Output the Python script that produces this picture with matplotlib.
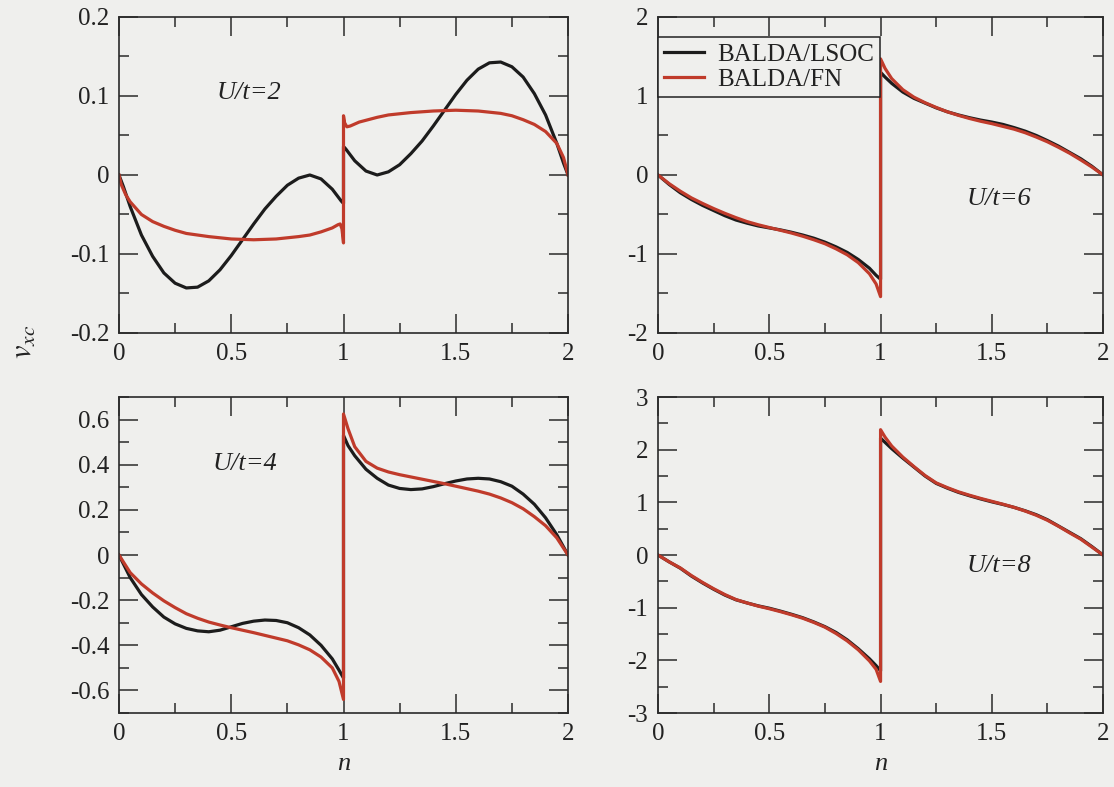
import numpy as np
import matplotlib.pyplot as plt
from matplotlib.ticker import MultipleLocator, FuncFormatter

plt.rcParams['font.family'] = ['Liberation Serif', 'DejaVu Serif']
plt.rcParams['mathtext.fontset'] = 'stix'
plt.rcParams['axes.unicode_minus'] = False

# ---- data (n = filling, v_xc values) ----
# U/t = 2
n2_lsoc = [0, 0.02, 0.05, 0.1, 0.15, 0.2, 0.25, 0.3, 0.35, 0.4, 0.45, 0.5, 0.55, 0.6, 0.65, 0.7,
           0.75, 0.8, 0.85, 0.9, 0.95, 0.99, 1.0, 1.0, 1.01, 1.05, 1.1, 1.15, 1.2, 1.25, 1.3, 1.35,
           1.4, 1.45, 1.5, 1.55, 1.6, 1.65, 1.7, 1.75, 1.8, 1.85, 1.9, 1.95, 1.98, 2.0]
v2_lsoc = [0, -0.015, -0.040, -0.076, -0.103, -0.124, -0.137, -0.143, -0.142, -0.134, -0.120,
           -0.102, -0.082, -0.062, -0.043, -0.027, -0.013, -0.004, 0.000, -0.005, -0.018, -0.033,
           -0.036, 0.036, 0.033, 0.018, 0.005, 0.000, 0.004, 0.013, 0.027, 0.043, 0.062, 0.082,
           0.102, 0.120, 0.134, 0.142, 0.143, 0.137, 0.124, 0.103, 0.076, 0.040, 0.015, 0]
n2_fn = [0, 0.01, 0.03, 0.05, 0.1, 0.15, 0.2, 0.25, 0.3, 0.4, 0.5, 0.6, 0.7, 0.8, 0.85, 0.9, 0.95,
         0.975, 0.985, 0.993, 1.0, 1.0, 1.005, 1.015, 1.03, 1.07, 1.15, 1.2, 1.3, 1.4, 1.5, 1.6,
         1.7, 1.75, 1.8, 1.85, 1.9, 1.95, 1.98, 2.0]
v2_fn = [0, -0.012, -0.025, -0.034, -0.050, -0.059, -0.065, -0.070, -0.074, -0.078, -0.081,
         -0.082, -0.081, -0.078, -0.076, -0.072, -0.067, -0.063, -0.062, -0.068, -0.086, 0.075,
         0.066, 0.061, 0.062, 0.067, 0.073, 0.076, 0.079, 0.081, 0.082, 0.081, 0.078, 0.075,
         0.070, 0.064, 0.055, 0.040, 0.022, 0]

# shared grid for U/t = 4, 6, 8
n_grid = [0, 0.05, 0.1, 0.15, 0.2, 0.25, 0.3, 0.35, 0.4, 0.45, 0.5, 0.55, 0.6, 0.65, 0.7, 0.75,
          0.8, 0.85, 0.9, 0.95, 0.98, 1.0, 1.0, 1.02, 1.05, 1.1, 1.15, 1.2, 1.25, 1.3, 1.35, 1.4,
          1.45, 1.5, 1.55, 1.6, 1.65, 1.7, 1.75, 1.8, 1.85, 1.9, 1.95, 2.0]

# U/t = 4
v4_lsoc = [0, -0.10, -0.175, -0.23, -0.275, -0.305, -0.325, -0.336, -0.34, -0.333, -0.318, -0.303,
           -0.293, -0.288, -0.29, -0.30, -0.322, -0.354, -0.40, -0.46, -0.51, -0.545,
           0.53, 0.485, 0.44, 0.38, 0.34, 0.31, 0.295, 0.29, 0.293, 0.303, 0.316, 0.328, 0.337,
           0.34, 0.337, 0.325, 0.305, 0.27, 0.225, 0.165, 0.09, 0]
v4_fn = [0, -0.078, -0.128, -0.168, -0.203, -0.233, -0.26, -0.28, -0.297, -0.31, -0.322, -0.333,
         -0.344, -0.356, -0.368, -0.38, -0.398, -0.42, -0.452, -0.50, -0.56, -0.64,
         0.625, 0.56, 0.48, 0.415, 0.385, 0.368, 0.356, 0.346, 0.336, 0.326, 0.316, 0.305, 0.294,
         0.283, 0.27, 0.253, 0.232, 0.205, 0.17, 0.13, 0.076, 0]

# U/t = 6
v6_lsoc = [0, -0.12, -0.225, -0.31, -0.385, -0.45, -0.515, -0.57, -0.61, -0.645, -0.67, -0.695,
           -0.725, -0.76, -0.80, -0.85, -0.91, -0.98, -1.07, -1.18, -1.27, -1.32,
           1.30, 1.24, 1.16, 1.05, 0.97, 0.91, 0.85, 0.80, 0.76, 0.725, 0.695, 0.67, 0.64,
           0.60, 0.555, 0.50, 0.435, 0.365, 0.285, 0.205, 0.11, 0]
v6_fn = [0, -0.11, -0.205, -0.29, -0.36, -0.425, -0.485, -0.54, -0.59, -0.63, -0.665, -0.70,
         -0.735, -0.775, -0.82, -0.87, -0.935, -1.01, -1.11, -1.25, -1.38, -1.54,
         1.47, 1.35, 1.22, 1.08, 0.985, 0.915, 0.855, 0.80, 0.755, 0.715, 0.68, 0.65, 0.615,
         0.58, 0.535, 0.48, 0.42, 0.35, 0.275, 0.19, 0.10, 0]

# U/t = 8
v8_lsoc = [0, -0.13, -0.25, -0.40, -0.53, -0.65, -0.76, -0.85, -0.91, -0.965, -1.01, -1.065,
           -1.125, -1.19, -1.27, -1.36, -1.47, -1.61, -1.78, -1.97, -2.10, -2.20,
           2.22, 2.14, 2.02, 1.84, 1.67, 1.50, 1.36, 1.27, 1.19, 1.125, 1.065, 1.01, 0.96,
           0.905, 0.84, 0.765, 0.67, 0.55, 0.43, 0.31, 0.16, 0]
v8_fn = [0, -0.13, -0.245, -0.39, -0.52, -0.64, -0.75, -0.845, -0.91, -0.97, -1.02, -1.075,
         -1.135, -1.20, -1.28, -1.37, -1.49, -1.63, -1.80, -2.01, -2.17, -2.40,
         2.38, 2.24, 2.07, 1.86, 1.68, 1.51, 1.37, 1.28, 1.20, 1.135, 1.075, 1.02, 0.965,
         0.905, 0.835, 0.755, 0.66, 0.545, 0.42, 0.30, 0.15, 0]

labels = ['BALDA/LSOC', 'BALDA/FN']

bg = '#efefed'
black = '#1c1c1c'
red = '#c03b2b'

fig = plt.figure(figsize=(11.14, 7.87), dpi=100, facecolor=bg)

panels = [
    # rect, (n, v) lsoc, (n, v) fn, ylim, major, minor, text, text pos
    ([0.1068, 0.5769, 0.4031, 0.4015], (n2_lsoc, v2_lsoc), (n2_fn, v2_fn), (-0.2, 0.2), 0.1, 0.05,
     'U/t=2', (0.436, 0.096)),
    ([0.5907, 0.5769, 0.3995, 0.4015], (n_grid, v6_lsoc), (n_grid, v6_fn), (-2, 2), 1, 0.5,
     'U/t=6', (1.385, -0.376)),
    ([0.1068, 0.0940, 0.4031, 0.4015], (n_grid, v4_lsoc), (n_grid, v4_fn), (-0.7, 0.7), 0.2, 0.1,
     'U/t=4', (0.415, 0.376)),
    ([0.5907, 0.0940, 0.3995, 0.4015], (n_grid, v8_lsoc), (n_grid, v8_fn), (-3, 3), 1, 0.5,
     'U/t=8', (1.387, -0.32)),
]

fmt = FuncFormatter(lambda v, p: '%g' % round(v, 6))

axes = []
for rect, ls, fn, ylim, maj, mnr, txt, tpos in panels:
    ax = fig.add_axes(rect)
    ax.set_facecolor(bg)
    ax.plot(ls[0], ls[1], color=black, lw=2.3, label=labels[0])
    ax.plot(fn[0], fn[1], color=red, lw=2.3, label=labels[1])
    ax.set_xlim(0, 2)
    ax.set_ylim(*ylim)
    ax.xaxis.set_major_locator(MultipleLocator(0.5))
    ax.xaxis.set_minor_locator(MultipleLocator(0.25))
    ax.yaxis.set_major_locator(MultipleLocator(maj))
    ax.yaxis.set_minor_locator(MultipleLocator(mnr))
    ax.xaxis.set_major_formatter(fmt)
    ax.yaxis.set_major_formatter(fmt)
    ax.tick_params(which='both', direction='in', top=True, right=True,
                   color='#2a2a2a', width=1.1, labelsize=18, labelcolor='#222222')
    ax.tick_params(which='major', length=14, pad=7)
    ax.tick_params(which='minor', length=7)
    for s in ax.spines.values():
        s.set_color('#2a2a2a')
        s.set_linewidth(1.2)
    ax.text(tpos[0], tpos[1], txt, fontsize=19, style='italic', color='#222222',
            ha='left', va='baseline')
    axes.append(ax)

leg = axes[1].legend(loc='upper left', bbox_to_anchor=(0, 0.937), fontsize=18,
                     frameon=True, fancybox=False, edgecolor='#222222', facecolor=bg,
                     framealpha=1, handlelength=1.6, handletextpad=0.5, borderpad=0.25,
                     labelspacing=0.1, borderaxespad=0)
leg.get_frame().set_linewidth(1.1)
for t in leg.get_texts():
    t.set_color('#222222')

for ax in axes[2:]:
    ax.set_xlabel('n', fontsize=19, style='italic', labelpad=6, color='#222222')

fig.text(0.022, 0.565, r'$v_{xc}$', rotation=90, fontsize=22, ha='center', va='center',
         color='#222222')

fig.savefig('out.png', dpi=100, facecolor=bg)
